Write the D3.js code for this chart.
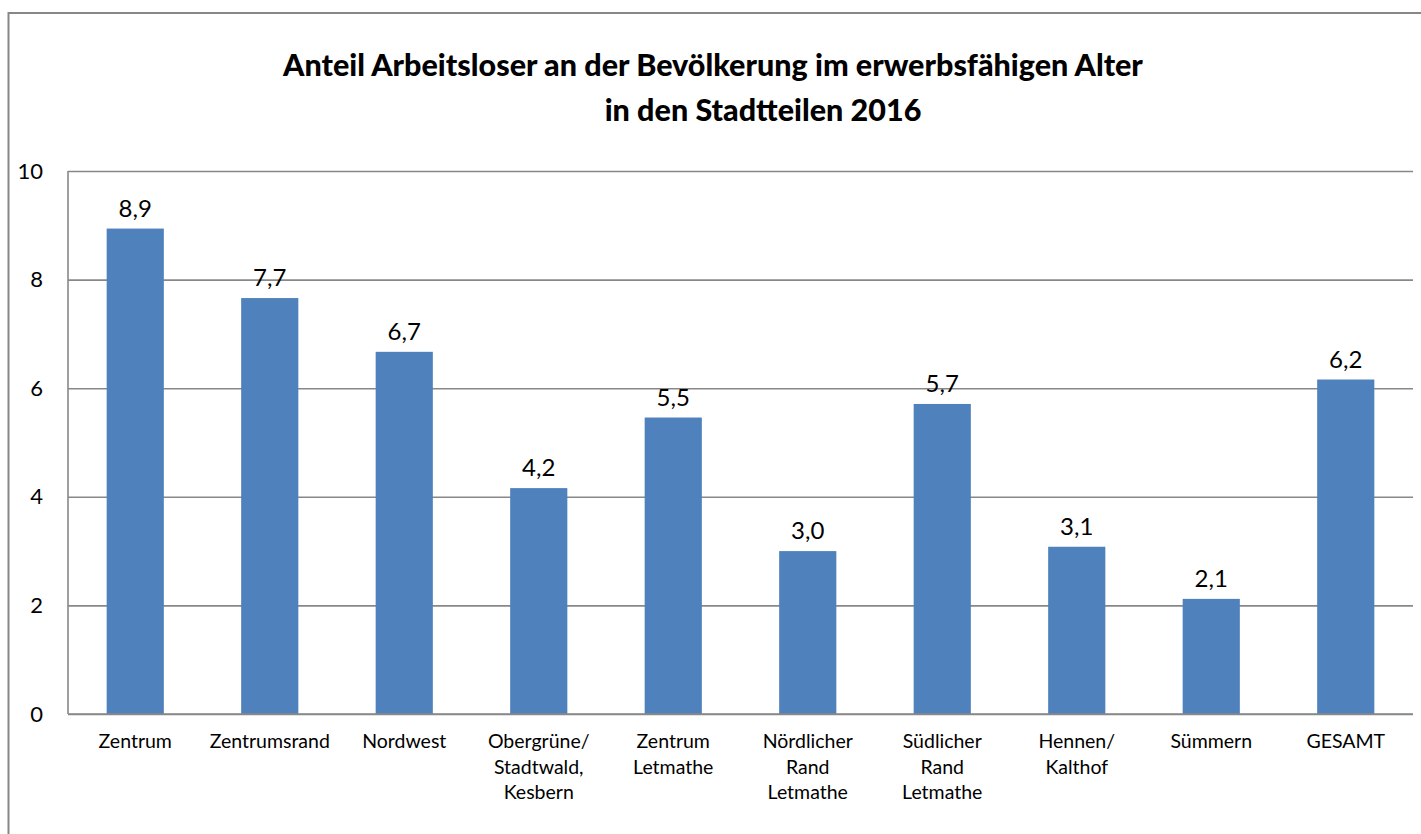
<!DOCTYPE html>
<html>
<head>
<meta charset="utf-8">
<title>Anteil Arbeitsloser 2016</title>
<script src="https://d3js.org/d3.v7.min.js"></script>
<style>
    body { margin: 0; background: #fff; }
    svg { display: block; font-family: Lato, "Open Sans", sans-serif; }
</style>
</head>
<body>
<script>
    // data
    var categories = [
        ["Zentrum"],
        ["Zentrumsrand"],
        ["Nordwest"],
        ["Obergrüne/", "Stadtwald,", "Kesbern"],
        ["Zentrum", "Letmathe"],
        ["Nördlicher", "Rand", "Letmathe"],
        ["Südlicher", "Rand", "Letmathe"],
        ["Hennen/", "Kalthof"],
        ["Sümmern"],
        ["GESAMT"]
    ];
    var values = [8.94, 7.66, 6.67, 4.16, 5.46, 3.0, 5.71, 3.08, 2.12, 6.16];
    var yTicks = [0, 2, 4, 6, 8, 10];
    var titleLines = ["Anteil Arbeitsloser an der Bevölkerung im erwerbsfähigen Alter", "in den Stadtteilen 2016"];

    var W = 1421, H = 834;
    var plot = {left: 68, right: 1413, top: 171, bottom: 714};

    var svg = d3.select("body").append("svg")
        .attr("width", W)
        .attr("height", H);

    // outer chart frame (runs off the right and bottom edge)
    svg.append("rect")
        .attr("x", 8.5).attr("y", 13)
        .attr("width", W + 20).attr("height", H + 20)
        .attr("fill", "#fff")
        .attr("stroke", "#878787")
        .attr("stroke-width", 2);

    // title
    var titleX = [713, 763];
    svg.selectAll(".title")
        .data(titleLines)
        .enter().append("text")
        .attr("class", "title")
        .attr("x", function(d, i){ return titleX[i]; })
        .attr("y", function(d, i){ return 76 + i * 45; })
        .attr("text-anchor", "middle")
        .style("font-size", "30.5px")
        .style("font-weight", "900")
        .style("fill", "#000")
        .text(function(d){ return d; });

    var xScale = d3.scaleBand()
        .domain(d3.range(categories.length))
        .range([plot.left, plot.right])
        .paddingInner(0.575)
        .paddingOuter(0.2875);

    var yScale = d3.scaleLinear()
        .domain([0, 10])
        .range([plot.bottom, plot.top]);

    // gridlines + y labels
    var yAxis = svg.append("g")
        .attr("transform", "translate(" + plot.left + ",0)")
        .call(d3.axisLeft(yScale).tickValues(yTicks).tickSize(-(plot.right - plot.left)).tickPadding(25));
    yAxis.select(".domain").remove();
    yAxis.selectAll(".tick line")
        .attr("stroke", "#888")
        .attr("stroke-width", 1.6);
    yAxis.selectAll(".tick text")
        .style("font-size", "22px")
        .style("font-family", "Lato, sans-serif")
        .attr("fill", "#000");

    // vertical axis line
    svg.append("line")
        .attr("x1", plot.left).attr("x2", plot.left)
        .attr("y1", plot.top).attr("y2", plot.bottom)
        .attr("stroke", "#888")
        .attr("stroke-width", 1.6);

    // bars
    svg.selectAll(".bar")
        .data(values)
        .enter().append("rect")
        .attr("class", "bar")
        .attr("x", function(d, i){ return xScale(i); })
        .attr("width", xScale.bandwidth())
        .attr("y", function(d){ return yScale(d); })
        .attr("height", function(d){ return yScale(0) - yScale(d); })
        .attr("fill", "#4f81bd");

    // value labels
    svg.selectAll(".val")
        .data(values)
        .enter().append("text")
        .attr("class", "val")
        .attr("x", function(d, i){ return xScale(i) + xScale.bandwidth() / 2; })
        .attr("y", function(d){ return yScale(d) - 12; })
        .attr("text-anchor", "middle")
        .style("font-size", "24px")
        .text(function(d){ return d.toFixed(1).replace(".", ","); });

    // redraw x axis line on top of bars
    svg.append("line")
        .attr("x1", plot.left).attr("x2", plot.right)
        .attr("y1", plot.bottom).attr("y2", plot.bottom)
        .attr("stroke", "#888")
        .attr("stroke-width", 1.6);

    // category labels
    var cat = svg.selectAll(".cat")
        .data(categories)
        .enter().append("text")
        .attr("class", "cat")
        .attr("text-anchor", "middle")
        .style("font-size", "19.5px");
    cat.selectAll("tspan")
        .data(function(d, i){ return d.map(function(s){ return {s: s, i: i}; }); })
        .enter().append("tspan")
        .attr("x", function(d){ return xScale(d.i) + xScale.bandwidth() / 2; })
        .attr("y", function(d, j){ return 748 + j * 25.7; })
        .text(function(d){ return d.s; });
</script>
</body>
</html>
